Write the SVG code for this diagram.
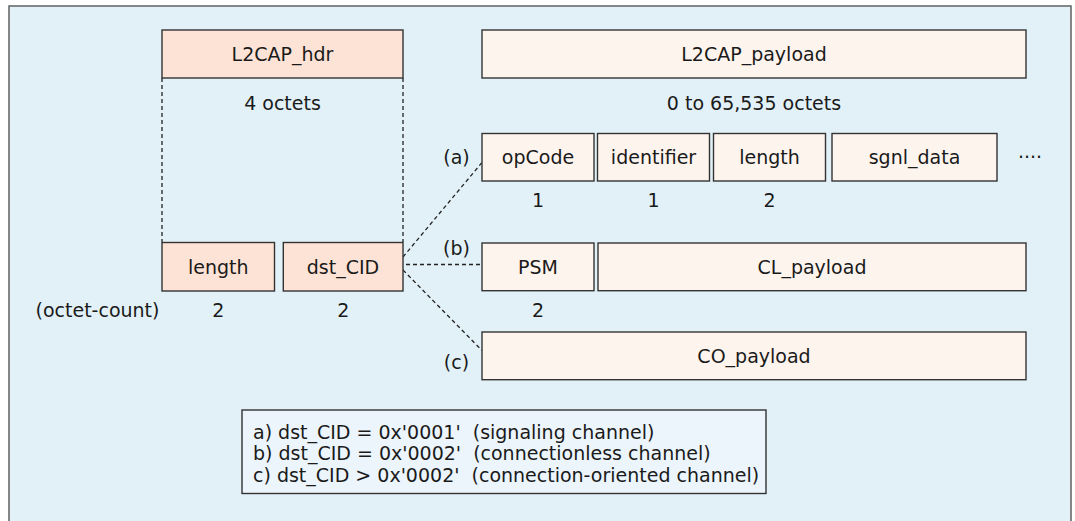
<svg xmlns="http://www.w3.org/2000/svg" width="1075" height="521" viewBox="0 0 1075 521">
<style>
.t{font-family:"DejaVu Sans","Noto Sans",sans-serif;font-size:19px;fill:#1a1a1a;text-anchor:middle}
.l{text-anchor:start}
.pk{fill:#fde3d5;stroke:#333;stroke-width:1.4}
.lt{fill:#fef4ee;stroke:#333;stroke-width:1.4}
.d{stroke:#222;stroke-width:1.3;stroke-dasharray:4 3;fill:none}
</style>
<rect x="0" y="0" width="1075" height="521" fill="#ffffff"/>
<rect x="9" y="6" width="1062" height="525" fill="#e2f1f7" stroke="#6a6a6a" stroke-width="1.6"/>
<g id="connectors">
<line class="d" x1="162" y1="78" x2="162" y2="242"/>
<line class="d" x1="403" y1="78" x2="403" y2="242"/>
<line class="d" x1="403" y1="257" x2="482" y2="162.5"/>
<line class="d" x1="406" y1="264.5" x2="482" y2="264.5"/>
<line class="d" x1="403" y1="270" x2="482" y2="350.5"/>
</g>
<g id="hdr"><rect class="pk" x="162" y="30" width="241" height="48"/><text class="t" x="282.5" y="61">L2CAP_hdr</text></g>
<g id="payload"><rect class="lt" x="482" y="30" width="544" height="48"/><text class="t" x="754" y="61">L2CAP_payload</text></g>
<text class="t" x="282.5" y="110">4 octets</text>
<text class="t" x="754" y="110">0 to 65,535 octets</text>
<g id="opcode"><rect class="lt" x="482" y="133.5" width="112" height="47.5"/><text class="t" x="538" y="164">opCode</text></g>
<g id="identifier"><rect class="lt" x="597.5" y="133.5" width="112" height="47.5"/><text class="t" x="653.5" y="164">identifier</text></g>
<g id="siglength"><rect class="lt" x="713.5" y="133.5" width="112" height="47.5"/><text class="t" x="769.5" y="164">length</text></g>
<g id="sgnl"><rect class="lt" x="832" y="133.5" width="165" height="47.5"/><text class="t" x="914.5" y="164">sgnl_data</text></g>
<text class="t" x="1030" y="164">····</text>
<text class="t" x="538" y="207">1</text>
<text class="t" x="653.5" y="207">1</text>
<text class="t" x="769.5" y="207">2</text>
<text class="t" x="456.5" y="163.5">(a)</text>
<text class="t" x="456.5" y="254.5">(b)</text>
<text class="t" x="456.5" y="368.5">(c)</text>
<g id="length"><rect class="pk" x="162" y="242.5" width="112.5" height="48.5"/><text class="t" x="218.3" y="273.5">length</text></g>
<g id="dstcid"><rect class="pk" x="283.3" y="242.5" width="119.7" height="48.5"/><text class="t" x="343" y="273.5">dst_CID</text></g>
<text class="t" x="97.5" y="317">(octet-count)</text>
<text class="t" x="218.3" y="317">2</text>
<text class="t" x="343.3" y="317">2</text>
<g id="psm"><rect class="lt" x="482" y="243" width="112" height="47.7"/><text class="t" x="538" y="273.5">PSM</text></g>
<g id="cl"><rect class="lt" x="598" y="243" width="428" height="47.7"/><text class="t" x="812" y="273.5">CL_payload</text></g>
<text class="t" x="538" y="317">2</text>
<g id="co"><rect class="lt" x="482" y="332" width="544" height="47.7"/><text class="t" x="754" y="362.5">CO_payload</text></g>
<g id="legend">
<rect x="242" y="410" width="524" height="83.5" fill="#ecf5fb" stroke="#333" stroke-width="1.4"/>
<text class="t l" x="253" y="438.5" xml:space="preserve">a) dst_CID = 0x'0001'  (signaling channel)</text>
<text class="t l" x="253" y="460" xml:space="preserve">b) dst_CID = 0x'0002'  (connectionless channel)</text>
<text class="t l" x="253" y="481.7" xml:space="preserve">c) dst_CID &gt; 0x'0002'  (connection-oriented channel)</text>
</g>
</svg>
